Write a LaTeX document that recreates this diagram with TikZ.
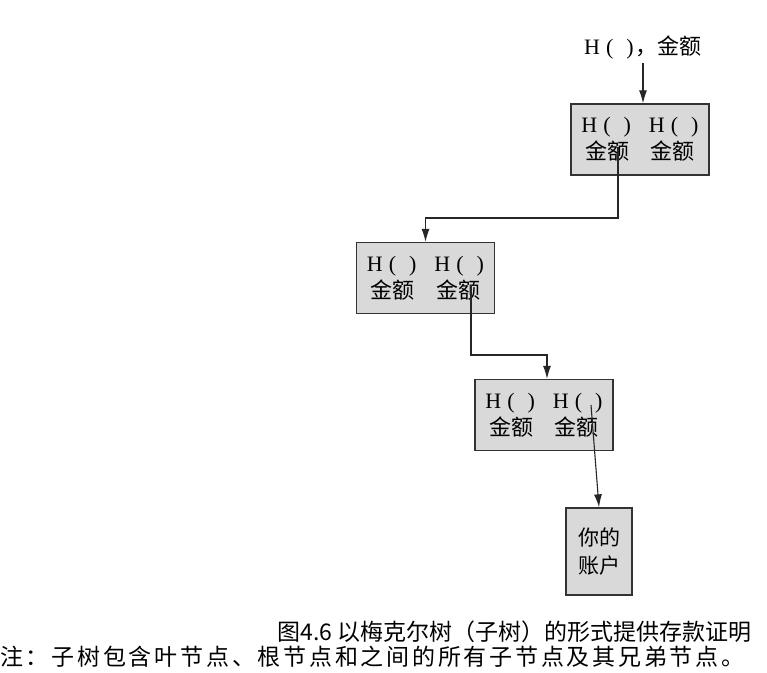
\documentclass[tikz,border=0pt]{standalone}
\usepackage{fontspec}
\setmainfont{Liberation Serif}
\newfontfamily\cjk{Noto Sans CJK SC}
\newfontfamily\cjkwide[LetterSpace=12]{Noto Sans CJK SC}
\usetikzlibrary{arrows.meta, positioning, calc}
\newcommand{\hashof}{H\kern6pt(\kern13pt)}

\begin{document}
\begin{tikzpicture}[x=1pt, y=-1pt]
    % Styles
    \tikzstyle{hashbox} = [rectangle, draw=black!80, line width=1.3pt, fill=black!15, minimum width=138pt, minimum height=71pt, align=center, inner sep=0pt, font=\fontsize{22}{27}\selectfont]
    \tikzstyle{acct} = [hashbox, minimum width=66pt, minimum height=87pt, font=\cjk\fontsize{21}{28}\selectfont]
    \tikzstyle{line} = [draw, -{Latex[length=13pt, width=8pt]}, line width=1.1pt, black!85]
    \tikzstyle{caption} = [inner sep=0pt, font=\cjk\fontsize{23}{26}\selectfont]

    \useasboundingbox (0,0) rectangle (767,672);

    % --- TOP LABEL ---
    \node [font=\fontsize{22}{27}\selectfont] (top) at (643,48) {\hashof\kern2pt{\cjk ，金额}};

    % --- BRANCH OF THE TREE ---
    \node [hashbox] (n1) at (640,139.5) {\hashof\kern18pt\hashof\\{\cjk 金额\kern22pt 金额}};
    \node [hashbox] (n2) at (425.5,278) {\hashof\kern18pt\hashof\\{\cjk 金额\kern22pt 金额}};
    \node [hashbox] (n3) at (544,415) {\hashof\kern18pt\hashof\\{\cjk 金额\kern22pt 金额}};
    \node [acct] (acct) at (599,551.5) {你的\\账户};

    % start points inside the boxes
    \coordinate (c1) at (618,147);
    \coordinate (k1) at (618,218);
    \coordinate (c2) at (471,285);
    \coordinate (k2) at (471,355);
    \coordinate (c3) at (591,405);

    % --- CONNECTIONS ---
    \path [line] (top.south) -- (top.south |- n1.north);
    \path [line] (c1) -- (k1) -| (n2.north);
    \path [line] (c2) -- (k2) -| ([xshift=3pt]n3.north);
    \path [line] (c3) -- (acct.north);

    % --- CAPTION ---
    \node [caption, anchor=east] (cap) at (752,632) {图4.6 以梅克尔树（子树）的形式提供存款证明};
    \node [caption, anchor=west, font=\cjkwide\fontsize{23}{26}\selectfont] (note) at (0,657) {注：子树包含叶节点、根节点和之间的所有子节点及其兄弟节点。};

\end{tikzpicture}
\end{document}
